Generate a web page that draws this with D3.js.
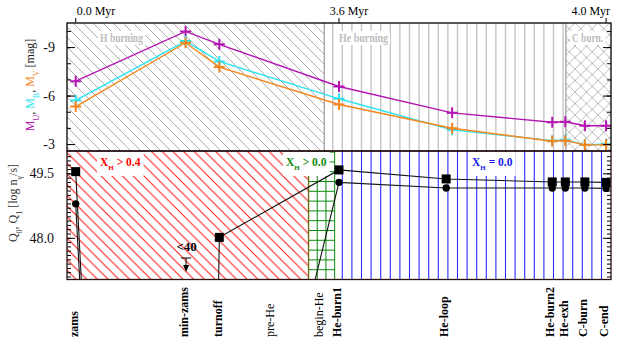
<!DOCTYPE html>
<html>
<head>
<meta charset="utf-8">
<style>
  body { margin: 0; background: #fff; }
  svg text { font-family: "Liberation Serif", "DejaVu Serif", serif; }
</style>
<title>Magnitudes and ionizing photon rates along the evolution</title>
</head>
<body>
<script src="https://cdn.jsdelivr.net/npm/d3@7/dist/d3.min.js"></script>
<script>
// evolutionary events, placed on an arbitrary phase axis (0..100)
var stages   = ["zams", "min-zams", "turnoff", "pre-He", "begin-He", "He-burn1", "He-loop", "He-burn2", "He-exh", "C-burn", "C-end"];
var stagePos = [1.6, 21.8, 28.0, 37.6, 46.7, 50.0, 69.7, 89.2, 91.6, 95.2, 99.1];
// the magnitude panel has its He-loop point a little later
var magPos   = [1.6, 21.8, 28.0, 37.6, 46.7, 50.0, 70.8, 89.2, 91.6, 95.2, 99.1];

// absolute magnitudes (null = not computed)
var magU = [-6.89, -9.97, -9.17, null, null, -6.56, -4.93, -4.35, -4.38, -4.13, -4.13];
var magB = [-5.70, -9.37, -8.11, null, null, -5.80, -3.88, -3.21, -3.26, -2.95, -3.00];
var magV = [-5.32, -9.27, -7.76, null, null, -5.45, -3.98, -3.17, -3.21, -2.95, -2.95];

// ionizing photon rates, log n_gamma/s (0 = below 40)
var q0 = [49.54, 0, 48.01, null, null, 49.58, 49.37, 49.30, 49.30, 49.30, 49.29];
var q1 = [48.79, 0, 0, 42.9, null, 49.29, 49.16, 49.16, 49.16, 49.16, 49.15];

// age ticks on top
var ages = ["0.0 Myr", "3.6 Myr", "4.0 Myr"];
var ageStage = ["zams", "He-burn1", "C-end"];

// burning phases (top panel) and hydrogen fraction regimes (bottom panel)
var phaseNames = ["H burning", "He burning", "C burn."];
var phaseEdges = [0, 47.3, 91.7, 100];
var xhText  = ["> 0.4", "> 0.0", "= 0.0"];
var xhEdges = [0, 44.4, 49.2, 100];

var W = 619, H = 343;
var left = 67, right = 611;
var top1 = 23, mid = 151, bot2 = 279.5;

var svg = d3.select("body").append("svg")
  .attr("width", W).attr("height", H);

var x = d3.scaleLinear().domain([0, 100]).range([left, right]);
var yMag = d3.scaleLinear().domain([-10.49, -2.57]).range([top1, mid]);
var yQ = d3.scaleLinear().domain([47.03, 50.02]).range([bot2, mid]);

var colU = "#b414b4", colB = "#2ce4f0", colV = "#f5861e";

// patterns
var defs = svg.append("defs");
function diag(id, step, color, w, cross) {
  var p = defs.append("pattern").attr("id", id)
    .attr("patternUnits", "userSpaceOnUse")
    .attr("width", step).attr("height", step);
  var d = "M" + (-step) + ",0 L" + step + "," + (2 * step) +
          " M0,0 L" + step + "," + step +
          " M0," + (-step) + " L" + (2 * step) + "," + step;
  p.append("path").attr("d", d).attr("stroke", color).attr("stroke-width", w).attr("fill", "none");
  if (cross) {
    p.append("path")
      .attr("d", "M0," + step + " L" + step + ",0 M" + (-step) + "," + step + " L" + step + "," + (-step) +
                 " M0," + (2 * step) + " L" + (2 * step) + ",0")
      .attr("stroke", color).attr("stroke-width", w).attr("fill", "none");
  }
}
diag("hgray", 10, "#a4a4a4", 0.9, false);
diag("hred", 10.7, "#ff1010", 1, false);
diag("hcross", 11.5, "#b4b4b4", 0.9, true);

defs.append("clipPath").attr("id", "clipTop").append("rect")
  .attr("x", left).attr("y", top1).attr("width", right - left).attr("height", mid - top1);
defs.append("clipPath").attr("id", "clipBot").append("rect")
  .attr("x", left).attr("y", mid).attr("width", right - left).attr("height", bot2 - mid);

// ---------- top panel backgrounds ----------
var bgTop = svg.append("g").attr("clip-path", "url(#clipTop)");
bgTop.append("rect").attr("x", x(phaseEdges[0])).attr("y", top1)
  .attr("width", x(phaseEdges[1]) - x(phaseEdges[0])).attr("height", mid - top1)
  .attr("fill", "url(#hgray)");
// He burning: vertical gray lines
var vstep = 9.6;
var heLines = d3.range(332.7, x(phaseEdges[2]) - 1, vstep);
bgTop.selectAll(".heline").data(heLines).enter().append("line")
  .attr("x1", d => d).attr("x2", d => d).attr("y1", top1).attr("y2", mid)
  .attr("stroke", "#c4c4c4").attr("stroke-width", 1.4);
bgTop.append("line").attr("x1", x(phaseEdges[1])).attr("x2", x(phaseEdges[1]))
  .attr("y1", top1).attr("y2", mid).attr("stroke", "#a8a8a8").attr("stroke-width", 1.4);
bgTop.append("rect").attr("x", x(phaseEdges[2])).attr("y", top1)
  .attr("width", x(phaseEdges[3]) - x(phaseEdges[2])).attr("height", mid - top1)
  .attr("fill", "url(#hcross)");
bgTop.append("line").attr("x1", x(phaseEdges[2])).attr("x2", x(phaseEdges[2]))
  .attr("y1", top1).attr("y2", mid).attr("stroke", "#a8a8a8").attr("stroke-width", 1.4);

// phase labels with white boxes
var phaseLabelX = [100, 339, 572];
var phaseLabelW = [43, 49, 31];
phaseNames.forEach(function (name, i) {
  var t = svg.append("text").attr("x", phaseLabelX[i]).attr("y", 42)
    .attr("font-size", 12).attr("font-weight", "bold").attr("fill", "#bdbdbd")
    .attr("textLength", phaseLabelW[i]).attr("lengthAdjust", "spacingAndGlyphs")
    .text(name);
  var b = t.node().getBBox();
  svg.insert("rect", function () { return t.node(); })
    .attr("x", b.x - 2).attr("y", b.y).attr("width", b.width + 4).attr("height", b.height)
    .attr("fill", "#fff");
});

// ---------- bottom panel backgrounds ----------
var bgBot = svg.append("g").attr("clip-path", "url(#clipBot)");
bgBot.append("rect").attr("x", x(xhEdges[0])).attr("y", mid)
  .attr("width", x(xhEdges[1]) - x(xhEdges[0])).attr("height", bot2 - mid)
  .attr("fill", "url(#hred)");
// green grid
var gx0 = x(xhEdges[1]), gx1 = x(xhEdges[2]);
bgBot.selectAll(".gv").data(d3.range(gx0, gx1 + 0.5, (gx1 - gx0) / 3)).enter().append("line")
  .attr("x1", d => d).attr("x2", d => d).attr("y1", mid).attr("y2", bot2)
  .attr("stroke", "#0a8a0a").attr("stroke-width", 1);
bgBot.selectAll(".gh").data(d3.range(bot2, mid, -9.8)).enter().append("line")
  .attr("x1", gx0).attr("x2", gx1).attr("y1", d => d).attr("y2", d => d)
  .attr("stroke", "#0a8a0a").attr("stroke-width", 1);
bgBot.append("line").attr("x1", gx0).attr("x2", gx0).attr("y1", mid).attr("y2", bot2)
  .attr("stroke", "#6a6a10").attr("stroke-width", 1.3);
// blue vertical lines
bgBot.selectAll(".bl").data(d3.range(332.7 + vstep, right, vstep)).enter().append("line")
  .attr("x1", d => d).attr("x2", d => d).attr("y1", mid).attr("y2", bot2)
  .attr("stroke", "#2a2aff").attr("stroke-width", 1.1);

// X_H labels
var xhColors = ["#ff0000", "#118a11", "#1a1aee"];
var xhLabelX = [100, 286, 472];
xhText.forEach(function (s, i) {
  var t = svg.append("text").attr("x", xhLabelX[i]).attr("y", 166)
    .attr("font-size", 11.5).attr("font-weight", "bold").attr("fill", xhColors[i]);
  t.append("tspan").text("X");
  t.append("tspan").attr("font-size", 7).attr("baseline-shift", "sub").text("H");
  t.append("tspan").text(" " + s);
  var b = t.node().getBBox();
  svg.insert("rect", function () { return t.node(); })
    .attr("x", b.x - 3).attr("y", mid + 1).attr("width", b.width + 6).attr("height", b.y + b.height - mid + 3)
    .attr("fill", "#fff");
});

// ---------- top panel data ----------
var gTop = svg.append("g").attr("clip-path", "url(#clipTop)");
var magSeries = [{v: magU, c: colU}, {v: magB, c: colB}, {v: magV, c: colV}];
var lineMag = d3.line().x(d => x(d.p)).y(d => yMag(d.v));
magSeries.forEach(function (s) {
  var pts = s.v.map((v, i) => ({p: magPos[i], v: v})).filter(d => d.v !== null);
  gTop.append("path").datum(pts).attr("d", lineMag)
    .attr("fill", "none").attr("stroke", s.c).attr("stroke-width", 1.4);
  gTop.selectAll(null).data(pts).enter().append("path")
    .attr("transform", d => "translate(" + x(d.p) + "," + yMag(d.v) + ")")
    .attr("d", "M-5.5,0 H5.5 M0,-5.5 V5.5")
    .attr("stroke", s.c).attr("stroke-width", 2).attr("fill", "none");
});

// ---------- bottom panel data ----------
var gBot = svg.append("g").attr("clip-path", "url(#clipBot)");
var lineQ = d3.line().x(d => x(d.p)).y(d => yQ(d.v));
var ptsQ0 = q0.map((v, i) => ({p: stagePos[i], v: v})).filter(d => d.v !== null);
var ptsQ1 = q1.map((v, i) => ({p: stagePos[i], v: v})).filter(d => d.v !== null);
[ptsQ0, ptsQ1].forEach(function (pts) {
  gBot.append("path").datum(pts).attr("d", lineQ)
    .attr("fill", "none").attr("stroke", "#111").attr("stroke-width", 1.1);
});
gBot.selectAll(".sq").data(ptsQ0).enter().append("rect")
  .attr("x", d => x(d.p) - 4.5).attr("y", d => yQ(d.v) - 4.5)
  .attr("width", 9).attr("height", 9).attr("fill", "#000");
gBot.selectAll(".ci").data(ptsQ1).enter().append("circle")
  .attr("cx", d => x(d.p)).attr("cy", d => yQ(d.v)).attr("r", 3.7).attr("fill", "#000");

// "<40" marker at min-zams
var mx = x(stagePos[stages.indexOf("min-zams")]);
svg.append("text").attr("x", mx + 1).attr("y", 251).attr("text-anchor", "middle")
  .attr("font-size", 13).attr("font-weight", "bold").text("<40");
svg.append("path").attr("d", "M" + (mx - 4.5) + ",258 H" + (mx + 5.5) + " M" + (mx + 0.5) + ",258 V266")
  .attr("stroke", "#000").attr("stroke-width", 1).attr("fill", "none");
svg.append("path").attr("d", "M" + (mx - 2.5) + ",265 L" + (mx + 3.5) + ",265 L" + (mx + 0.5) + ",272 Z")
  .attr("fill", "#000");

// ---------- axes ----------
function yAxes(scale, minor, major, fmt, pad) {
  svg.append("g").attr("transform", "translate(" + left + ",0)")
    .call(d3.axisLeft(scale).tickValues(minor).tickSize(-4).tickFormat(""))
    .call(g => g.select(".domain").remove());
  svg.append("g").attr("transform", "translate(" + left + ",0)")
    .call(d3.axisLeft(scale).tickValues(major).tickSize(-8).tickPadding(pad).tickFormat(fmt))
    .call(g => g.select(".domain").remove())
    .call(g => g.selectAll("text").attr("font-size", 14).attr("font-family", "Liberation Serif").attr("fill", "#111"));
  svg.append("g").attr("transform", "translate(" + right + ",0)")
    .call(d3.axisRight(scale).tickValues(minor).tickSize(-4).tickFormat(""))
    .call(g => g.select(".domain").remove());
  svg.append("g").attr("transform", "translate(" + right + ",0)")
    .call(d3.axisRight(scale).tickValues(major).tickSize(-8).tickFormat(""))
    .call(g => g.select(".domain").remove());
}
yAxes(yMag, d3.range(-10, -2.5, 1), [-9, -6, -3], d => String(d), 12);
yAxes(yQ, d3.range(47.1, 50.0, 0.1).map(d => +d.toFixed(1)), [48.0, 49.5], d => d.toFixed(1), 13);

// frames
svg.append("rect").attr("x", left).attr("y", top1).attr("width", right - left).attr("height", mid - top1)
  .attr("fill", "none").attr("stroke", "#000").attr("stroke-width", 1.3);
svg.append("rect").attr("x", left).attr("y", mid).attr("width", right - left).attr("height", bot2 - mid)
  .attr("fill", "none").attr("stroke", "#2a1010").attr("stroke-width", 1.3);

// top age ticks
var ageAnchor = ["start", "middle", "end"];
var ageDx = [1, 10, 4];
ages.forEach(function (a, i) {
  var ax = x(stagePos[stages.indexOf(ageStage[i])]);
  svg.append("line").attr("x1", ax).attr("x2", ax).attr("y1", 18).attr("y2", top1)
    .attr("stroke", "#000").attr("stroke-width", 1);
  svg.append("text").attr("x", ax + ageDx[i]).attr("y", 15).attr("text-anchor", ageAnchor[i])
    .attr("font-size", 12).text(a);
});

// event labels
var plain = ["pre-He", "begin-He"];
svg.selectAll(".ev").data(stages).enter().append("text")
  .attr("transform", (d, i) => "translate(" + (x(stagePos[i]) - 2) + ",337) rotate(-90)")
  .attr("dy", "0.35em")
  .attr("font-size", 12)
  .attr("font-weight", d => plain.indexOf(d) >= 0 ? "normal" : "bold")
  .text(d => d);

// y axis titles
var tt = svg.append("text").attr("transform", "translate(34,85) rotate(-90)")
  .attr("text-anchor", "middle").attr("font-size", 12);
tt.append("tspan").attr("fill", colU).text("M");
tt.append("tspan").attr("fill", colU).attr("font-size", 8).attr("baseline-shift", "sub").text("U");
tt.append("tspan").attr("fill", "#222").text(", ");
tt.append("tspan").attr("fill", colB).text("M");
tt.append("tspan").attr("fill", colB).attr("font-size", 8).attr("baseline-shift", "sub").text("B");
tt.append("tspan").attr("fill", "#222").text(", ");
tt.append("tspan").attr("fill", colV).text("M");
tt.append("tspan").attr("fill", colV).attr("font-size", 8).attr("baseline-shift", "sub").text("V");
tt.append("tspan").attr("fill", "#222").text(" [mag]");

var tb = svg.append("text").attr("transform", "translate(17,203) rotate(-90)")
  .attr("text-anchor", "middle").attr("font-size", 12).attr("fill", "#333");
tb.append("tspan").text("Q");
tb.append("tspan").attr("font-size", 8).attr("baseline-shift", "sub").text("0");
tb.append("tspan").text(", Q");
tb.append("tspan").attr("font-size", 8).attr("baseline-shift", "sub").text("1");
tb.append("tspan").text(" [log n");
tb.append("tspan").attr("font-size", 8).attr("baseline-shift", "sub").text("γ");
tb.append("tspan").text("/s]");
</script>
</body>
</html>
